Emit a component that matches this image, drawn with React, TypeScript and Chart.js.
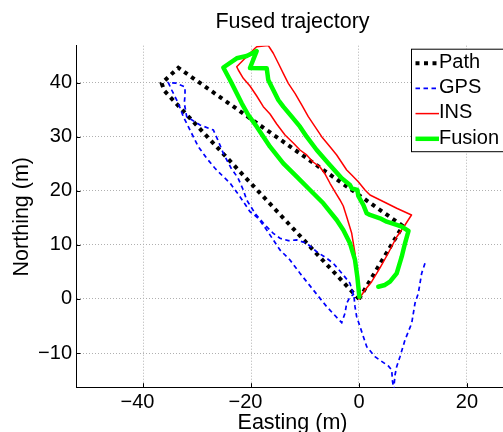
import { useEffect, useRef } from 'react';
import { Chart, registerables } from 'chart.js';

Chart.register(...registerables);

const FONT = '"Liberation Sans", Arial, Helvetica, sans-serif';

const titleText = 'Fused trajectory';
const xLabel = 'Easting (m)';
const yLabel = 'Northing (m)';
const xTicks = [-40, -20, 0, 20];
const yTicks = [-10, 0, 10, 20, 30, 40];
const xRange = [-52.41, 27.78];
const yRange = [-16.4, 46.82];
const legendLabels = ['Path', 'GPS', 'INS', 'Fusion'];

// Reference path
const pathE = [0, 8.1, -33.46, -36.54, -36.06, 0];
const pathN = [0, 13.5, 42.75, 39.87, 38.5, 0];

// GPS
const gpsE = [12.22, 11.61, 10.98, 10.37, 9.76, 8.52, 7.59, 6.98, 6.67, 6.48, 6.6, 6.2, 6.06, 5.43, 2.96, 1.43, 0.19, -0.43, -0.74, -0.93, -1.67, -2.91, -4.76, -5.98, -7.83, -9.69, -11.54, -13.09, -14.63, -15.87, -17.41, -19.26, -20.8, -21.43, -22.41, -23.7, -25.13, -26.06, -26.98, -29.44, -31.91, -32.35, -32.22, -32.22, -33.9, -35.31, -34.69, -33.46, -32.54, -31.61, -30.69, -29.76, -28.2, -26.67, -25.43, -23.89, -22.04, -20.19, -18.65, -17.09, -14.63, -12.78, -10.93, -8.46, -5.98, -3.2, -2.59, -2.28, -1.67, -0.93];
const gpsN = [6.6, 4.75, 1.05, -0.79, -4.49, -7.58, -10.67, -12.51, -14.05, -16.21, -17.5, -15.2, -13.12, -12.38, -10.67, -8.82, -5.12, -3.27, -1.42, 0.55, 2.9, 4.44, 6.6, 7.52, 8.74, 10.3, 10.91, 10.78, 11.22, 12.14, 13.68, 15.84, 18.3, 20.15, 22.37, 24.21, 26.93, 29.21, 31.24, 32.16, 33.7, 36.17, 37.71, 39.19, 39.9, 39.98, 38.63, 36.17, 33.7, 31.85, 30.0, 28.15, 26.0, 24.16, 22.92, 21.44, 18.91, 16.14, 14.92, 12.75, 9.06, 7.21, 4.75, 1.66, -1.42, -4.38, -2.64, -0.79, 0.37, 0.92];

// INS
const insE = [0, 1.11, 2.35, 3.89, 5.43, 6.98, 8.52, 9.72, 6.98, 5.13, 2.04, 1.11, -0.13, -1.35, -2.28, -4.13, -5.37, -6.91, -8.15, -9.39, -10.61, -11.85, -13.09, -14.02, -14.94, -15.87, -16.8, -18.94, -19.26, -22.65, -22.35, -21.43, -20.19, -18.94, -17.72, -16.48, -15.24, -13.7, -12.17, -10.93, -9.69, -8.52, -7.22, -6.3, -5.37, -4.44, -3.52, -2.91, -2.28, -1.35, -0.74, -0.43, -0.13, 0];
const insN = [0, 1.66, 3.2, 5.73, 8.5, 11.46, 13.68, 15.53, 16.77, 17.69, 19.22, 20.15, 21.68, 22.92, 23.84, 26.62, 28.15, 30.0, 31.85, 33.7, 35.86, 38.02, 39.87, 41.72, 43.57, 45.42, 46.86, 46.64, 46.34, 42.94, 42.33, 40.8, 39.37, 37.52, 35.55, 34.2, 32.35, 30.31, 28.84, 27.54, 26.62, 25.32, 24.4, 23.11, 21.39, 19.78, 18.3, 17.19, 15.21, 12.14, 8.45, 5.36, 2.59, 0];

// Fusion
const fusE = [3.57, 4.81, 5.74, 6.98, 7.91, 8.52, 9.17, 7.91, 6.98, 5.13, 3.89, 2.04, 1.43, 0.8, -0.13, -0.31, -1.35, -1.67, -3.2, -5.69, -7.83, -9.69, -10.93, -12.46, -14.02, -14.94, -15.87, -16.8, -17.09, -20.19, -18.94, -20.8, -22.65, -25.13, -23.89, -22.65, -21.72, -20.5, -18.94, -16.48, -14.02, -11.54, -9.07, -6.61, -4.13, -2.91, -1.67, -0.74, -0.31, 0.06];
const fusN = [2.27, 2.59, 3.2, 4.75, 7.82, 10.3, 12.57, 13.36, 13.68, 14.29, 14.92, 15.53, 15.84, 17.38, 19.04, 20.15, 20.46, 21.07, 22.31, 25.08, 27.54, 30.0, 31.85, 33.7, 35.55, 36.78, 38.63, 40.48, 42.64, 42.7, 45.84, 44.92, 44.49, 42.79, 40.48, 38.02, 36.17, 34.01, 31.85, 28.15, 25.08, 22.61, 20.15, 17.69, 14.6, 12.75, 10.3, 7.21, 4.12, 0.43];

const toPts = (e: number[], n: number[]) => e.map((v, i) => ({ x: v, y: n[i] }));
const fmtX = (v: number) => (v < 0 ? '\u2212' + Math.abs(v) + '\u2007' : String(v));
const fmtY = (v: number) => (v < 0 ? '\u2212' + Math.abs(v) : String(v));

const matlabPlugin = {
  id: 'matlabExtras',
  afterDraw(chart: any) {
    const { ctx, chartArea } = chart;
    const xs = chart.scales.x;
    const ys = chart.scales.y;
    ctx.save();
    // inward tick marks
    ctx.strokeStyle = '#000';
    ctx.lineWidth = 1;
    ctx.setLineDash([]);
    ctx.beginPath();
    xTicks.forEach((v) => {
      const px = Math.round(xs.getPixelForValue(v)) + 0.5;
      ctx.moveTo(px, chartArea.bottom);
      ctx.lineTo(px, chartArea.bottom - 4.5);
    });
    yTicks.forEach((v) => {
      const py = Math.round(ys.getPixelForValue(v)) + 0.5;
      ctx.moveTo(chartArea.left, py);
      ctx.lineTo(chartArea.left + 4.5, py);
    });
    ctx.stroke();

    // legend box
    const left = chartArea.right - 97.5;
    const top = chartArea.top + 3.5;
    const w = 110;
    const h = 102.5;
    ctx.fillStyle = '#fff';
    ctx.fillRect(left, top, w, h);
    ctx.strokeStyle = '#000';
    ctx.lineWidth = 1;
    ctx.strokeRect(left, top, w, h);
    const ds = chart.data.datasets;
    legendLabels.forEach((lab, i) => {
      const d = ds.find((q: any) => q.label === lab);
      const y = top + 14 + i * 25.2;
      ctx.save();
      ctx.strokeStyle = d.borderColor;
      ctx.lineWidth = d.borderWidth;
      ctx.setLineDash(d.borderDash || []);
      ctx.lineCap = 'butt';
      ctx.beginPath();
      ctx.moveTo(left + 4, y);
      ctx.lineTo(left + 27.5, y);
      ctx.stroke();
      ctx.restore();
      ctx.fillStyle = '#000';
      ctx.font = `20px ${FONT}`;
      ctx.textBaseline = 'middle';
      ctx.textAlign = 'left';
      ctx.fillText(lab, left + 27.5, y - 0.8);
    });
    ctx.restore();
  },
};

export default function App() {
  const ref = useRef<HTMLCanvasElement | null>(null);
  useEffect(() => {
    if (!ref.current) return;
    const chart = new Chart(ref.current, {
      type: 'scatter',
      data: {
        datasets: [
          {
            label: 'Path',
            data: toPts(pathE, pathN),
            showLine: true,
            borderColor: '#000000',
            borderWidth: 4,
            borderDash: [4, 4.5],
            borderCapStyle: 'butt',
            pointRadius: 0,
            order: 3,
          },
          {
            label: 'GPS',
            data: toPts(gpsE, gpsN),
            showLine: true,
            borderColor: '#0000ff',
            borderWidth: 1.7,
            borderDash: [4.5, 3.5],
            pointRadius: 0,
            order: 2,
          },
          {
            label: 'INS',
            data: toPts(insE, insN),
            showLine: true,
            borderColor: '#ff0000',
            borderWidth: 1.5,
            borderJoinStyle: 'round',
            pointRadius: 0,
            order: 1,
          },
          {
            label: 'Fusion',
            data: toPts(fusE, fusN),
            showLine: true,
            borderColor: '#00ff00',
            borderWidth: 4.5,
            borderJoinStyle: 'round',
            borderCapStyle: 'round',
            pointRadius: 0,
            order: 0,
          },
        ] as any,
      },
      options: {
        responsive: false,
        animation: false,
        events: [],
        layout: { padding: 0, autoPadding: false },
        plugins: {
          legend: { display: false },
          tooltip: { enabled: false },
          title: {
            display: true,
            text: titleText,
            fullSize: false,
            color: '#000',
            font: { family: FONT, size: 21.5, weight: 'normal', lineHeight: 1.2 },
            padding: { top: 8.95, bottom: 10.95 },
          },
        },
        scales: {
          x: {
            type: 'linear',
            min: xRange[0],
            max: xRange[1],
            afterBuildTicks: (s: any) => {
              s.ticks = xTicks.map((v) => ({ value: v }));
            },
            afterFit: (s: any) => {
              s.height = 44.3;
            },
            grid: { color: '#b0b0b0', lineWidth: 1, drawTicks: false },
            border: { display: true, color: '#000', width: 1, dash: [1, 2] },
            ticks: {
              padding: 3,
              color: '#000',
              autoSkip: false,
              maxRotation: 0,
              font: { family: FONT, size: 20 },
              callback: (v: any) => fmtX(Number(v)),
            },
            title: {
              display: true,
              text: xLabel,
              color: '#000',
              font: { family: FONT, size: 21.5, lineHeight: 1.2 },
              padding: { top: 0, bottom: -3.9 },
            },
          },
          y: {
            type: 'linear',
            min: yRange[0],
            max: yRange[1],
            afterBuildTicks: (s: any) => {
              s.ticks = yTicks.map((v) => ({ value: v }));
            },
            afterFit: (s: any) => {
              s.width = 76;
            },
            grid: { color: '#b0b0b0', lineWidth: 1, drawTicks: false },
            border: { display: true, color: '#000', width: 1, dash: [1, 2] },
            ticks: {
              padding: 4,
              color: '#000',
              autoSkip: false,
              font: { family: FONT, size: 20 },
              callback: (v: any) => fmtY(Number(v)),
            },
            title: {
              display: true,
              text: yLabel,
              color: '#000',
              font: { family: FONT, size: 21.5, lineHeight: 1.2 },
              padding: { top: 8.95, bottom: 0 },
            },
          },
        },
      } as any,
      plugins: [matlabPlugin],
    });
    return () => chart.destroy();
  }, []);

  return (
    <div
      style={{
        position: 'absolute',
        left: 0,
        top: 0,
        width: 503,
        height: 432,
        overflow: 'hidden',
        background: '#fff',
      }}
    >
      <canvas ref={ref} width={509} height={432} style={{ display: 'block' }} />
    </div>
  );
}
